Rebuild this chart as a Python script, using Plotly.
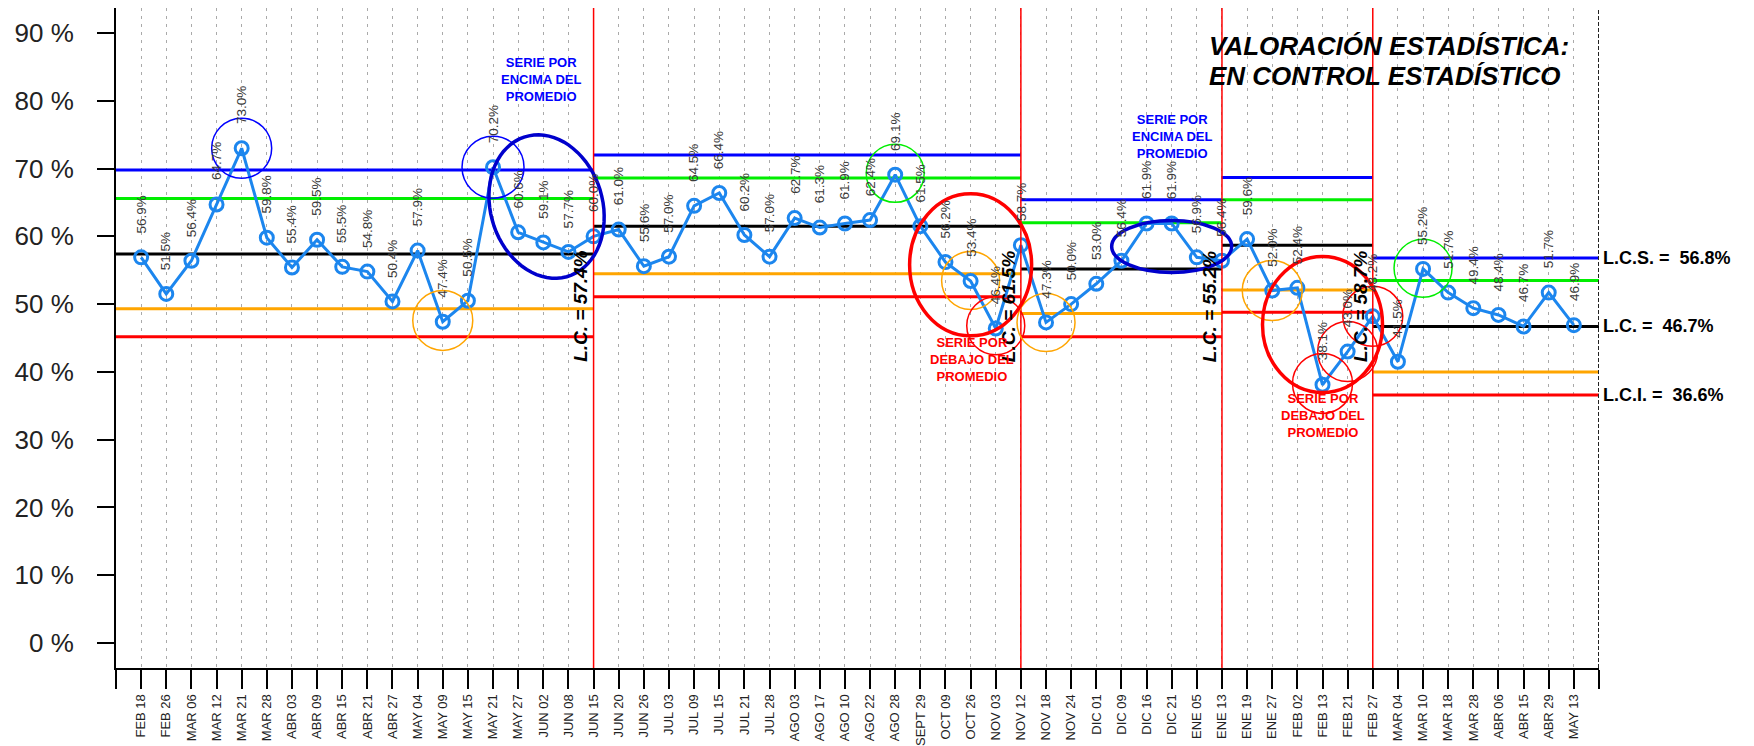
import numpy as np
import plotly.graph_objects as go

# ---- data ----
fechas = [
    "FEB 18", "FEB 26", "MAR 06", "MAR 12", "MAR 21", "MAR 28", "ABR 03", "ABR 09",
    "ABR 15", "ABR 21", "ABR 27", "MAY 04", "MAY 09", "MAY 15", "MAY 21", "MAY 27",
    "JUN 02", "JUN 08", "JUN 15", "JUN 20", "JUN 26", "JUL 03", "JUL 09", "JUL 15",
    "JUL 21", "JUL 28", "AGO 03", "AGO 17", "AGO 10", "AGO 22", "AGO 28", "SEPT 29",
    "OCT 09", "OCT 26", "NOV 03", "NOV 12", "NOV 18", "NOV 24", "DIC 01", "DIC 09",
    "DIC 16", "DIC 21", "ENE 05", "ENE 13", "ENE 19", "ENE 27", "FEB 02", "FEB 13",
    "FEB 21", "FEB 27", "MAR 04", "MAR 10", "MAR 18", "MAR 28", "ABR 06", "ABR 15",
    "ABR 29", "MAY 13",
]
valores = [
    56.9, 51.5, 56.4, 64.7, 73.0, 59.8, 55.4, 59.5, 55.5, 54.8, 50.4, 57.9, 47.4,
    50.5, 70.2, 60.6, 59.1, 57.7, 60.0, 61.0, 55.6, 57.0, 64.5, 66.4, 60.2, 57.0,
    62.7, 61.3, 61.9, 62.4, 69.1, 61.5, 56.2, 53.4, 46.4, 58.7, 47.3, 50.0, 53.0,
    56.4, 61.9, 61.9, 56.9, 56.4, 59.6, 52.0, 52.4, 38.1, 43.0, 48.2, 41.5, 55.2,
    51.7, 49.4, 48.4, 46.7, 51.7, 46.9,
]
y_ticks = [0, 10, 20, 30, 40, 50, 60, 70, 80, 90]

# segment limits (start index, end index) and control levels
seg_inicio = [-1, 18, 35, 43, 49]
seg_fin = [18, 35, 43, 49, 58]
lcs = [69.8, 72.0, 65.4, 68.7, 56.8]
sup2 = [65.6, 68.6, 62.0, 65.4, 53.5]
lc = [57.4, 61.5, 55.2, 58.7, 46.7]
inf2 = [49.3, 54.5, 48.6, 52.1, 40.0]
lci = [45.2, 51.1, 45.2, 48.8, 36.6]

FONT = "Liberation Sans, Arial, sans-serif"
x = list(range(len(valores)))

fig = go.Figure()

niveles = [(lcs, "#0000FF"), (sup2, "#00EE00"), (lc, "#000000"), (inf2, "#FFA500"), (lci, "#FF0000")]
for serie, color in niveles:
    for i in range(len(seg_inicio)):
        fig.add_trace(go.Scatter(
            x=[seg_inicio[i], seg_fin[i]], y=[serie[i], serie[i]],
            mode="lines", line=dict(color=color, width=3),
            showlegend=False, hoverinfo="skip",
        ))

fig.add_trace(go.Scatter(
    x=x, y=valores, mode="lines+markers",
    line=dict(color="#1C86EE", width=3),
    marker=dict(symbol="circle-open", size=13, line=dict(color="#1C86EE", width=3)),
    showlegend=False,
))

# data labels
for xi, v in zip(x, valores):
    fig.add_annotation(
        x=xi, y=v, text=f"{v:.1f}%", textangle=-90, showarrow=False,
        xanchor="center", yanchor="bottom", yshift=22,
        font=dict(family=FONT, size=13.5, color="#3A3A3A"),
    )

# vertical red phase lines
for s in seg_inicio[1:]:
    fig.add_shape(type="line", x0=s, x1=s, y0=0, y1=1, xref="x", yref="paper",
                  line=dict(color="#FF0000", width=1.5))

# right border (dashed)
fig.add_shape(type="line", x0=58, x1=58, y0=0, y1=1, xref="x", yref="paper",
              line=dict(color="#222222", width=2, dash="4px,2px"))

# L.C. labels on phase changes
for s, v in zip(seg_inicio[1:], lc[:-1]):
    fig.add_annotation(
        x=s, y=41.2, text=f"<b><i>L.C. = {v:.1f}%</i></b>", textangle=-90,
        showarrow=False, xanchor="right", yanchor="bottom",
        font=dict(family=FONT, size=19, color="#000000"),
    )

# right-side labels
for nombre, v in [("L.C.S.", lcs[-1]), ("L.C.", lc[-1]), ("L.C.I.", lci[-1])]:
    fig.add_annotation(
        x=58, y=v, text=f"<b>{nombre} =&nbsp; {v:.1f}%</b>", showarrow=False,
        xanchor="left", yanchor="middle", xshift=2,
        font=dict(family=FONT, size=18, color="#000000"),
    )

# circles around points (anchor index, value, radius px, color, width)
circulos = [
    (4, 73.0, 30, "#0000FF", 1.5),
    (12, 47.6, 30, "#FFA500", 1.5),
    (14, 70.2, 31, "#0000FF", 1.5),
    (30, 69.3, 29, "#00EE00", 1.5),
    (33, 53.5, 29, "#FFA500", 1.5),
    (34, 46.8, 29, "#FF0000", 1.5),
    (36, 47.3, 29, "#FFA500", 1.5),
    (45, 52.0, 30, "#FFA500", 1.5),
    (47, 38.3, 30, "#FF0000", 1.5),
    (48, 43.0, 30, "#FF0000", 1.5),
    (49, 48.2, 30, "#FF0000", 1.5),
    (51, 55.3, 29, "#00EE00", 1.5),
]
for cx, cy, r, color, w in circulos:
    fig.add_shape(type="circle", xref="x", yref="y", xsizemode="pixel", ysizemode="pixel",
                  xanchor=cx, yanchor=cy, x0=-r, x1=r, y0=-r, y1=r,
                  line=dict(color=color, width=w))

# big ellipses
elipses = [
    (33.0, 55.8, 61, 71, "#FF0000"),
    (41.0, 58.5, 60, 26, "#0000CC"),
    (47.0, 47.0, 60, 68, "#FF0000"),
]
for cx, cy, rx, ry, color in elipses:
    fig.add_shape(type="circle", xref="x", yref="y", xsizemode="pixel", ysizemode="pixel",
                  xanchor=cx, yanchor=cy, x0=-rx, x1=rx, y0=-ry, y1=ry,
                  line=dict(color=color, width=3.5))


def elipse_rotada(a, b, grados, n=72):
    t = np.linspace(0, 2 * np.pi, n)
    th = np.radians(grados)
    px = b * np.cos(t) * np.cos(th) - a * np.sin(t) * np.sin(th)
    py = b * np.cos(t) * np.sin(th) + a * np.sin(t) * np.cos(th)
    return "M " + " L ".join(f"{u:.1f},{w:.1f}" for u, w in zip(px, py)) + " Z"


fig.add_shape(type="path", xref="x", yref="y", xsizemode="pixel", ysizemode="pixel",
              xanchor=16.13, yanchor=64.4, path=elipse_rotada(73, 56, 17),
              line=dict(color="#0000CC", width=3.5))

# text notes
notas = [
    (15.9, 83.1, "SERIE POR<br>ENCIMA DEL<br>PROMEDIO", "#0000FF"),
    (41.0, 74.7, "SERIE POR<br>ENCIMA DEL<br>PROMEDIO", "#0000FF"),
    (33.05, 41.8, "SERIE POR<br>DEBAJO DEL<br>PROMEDIO", "#FF0000"),
    (47.0, 33.6, "SERIE POR<br>DEBAJO DEL<br>PROMEDIO", "#FF0000"),
]
for nx, ny, texto, color in notas:
    fig.add_annotation(
        x=nx, y=ny, text=f"<b>{texto}</b>", showarrow=False,
        xanchor="center", yanchor="middle", align="center",
        font=dict(family=FONT, size=13, color=color),
    )

# title
fig.add_annotation(x=0.7357, y=0.943, xref="paper", yref="paper",
                   text="<b><i>VALORACIÓN ESTADÍSTICA:</i></b>", showarrow=False,
                   xanchor="left", yanchor="middle",
                   font=dict(family=FONT, size=26, color="#000000"))
fig.add_annotation(x=0.7357, y=0.897, xref="paper", yref="paper",
                   text="<b><i>EN CONTROL ESTADÍSTICO</i></b>", showarrow=False,
                   xanchor="left", yanchor="middle",
                   font=dict(family=FONT, size=26, color="#000000"))

# page body adds an 8px offset, so the figure is 8px smaller and margins shifted
fig.update_layout(
    width=1746, height=738,
    margin=dict(l=108, r=155, t=0, b=78),
    paper_bgcolor="white", plot_bgcolor="white",
    showlegend=False,
    font=dict(family=FONT, color="#222222"),
)
fig.update_xaxes(
    range=[-1, 58],
    tickmode="array",
    tickvals=list(range(-1, 59)),
    ticktext=[""] + fechas + [""],
    tickangle=-90,
    tickfont=dict(family=FONT, size=13, color="#222222"),
    ticks="outside", ticklen=19, tickwidth=2, tickcolor="#000000",
    showline=True, linewidth=2, linecolor="#000000", mirror=True,
    showgrid=True, gridcolor="#AAAAAA", gridwidth=1, griddash="3px,5px",
    zeroline=False, automargin=False,
)
fig.update_yaxes(
    range=[-3.7, 93.7],
    tickmode="array",
    tickvals=y_ticks,
    ticktext=[f"{t} %" for t in y_ticks],
    tickfont=dict(family=FONT, size=26, color="#222222"),
    ticks="outside", ticklen=17, tickwidth=2, tickcolor="#000000",
    ticklabelstandoff=18,
    showline=True, linewidth=2, linecolor="#000000",
    showgrid=False, zeroline=False, automargin=False,
)

fig.write_html("out.html")
